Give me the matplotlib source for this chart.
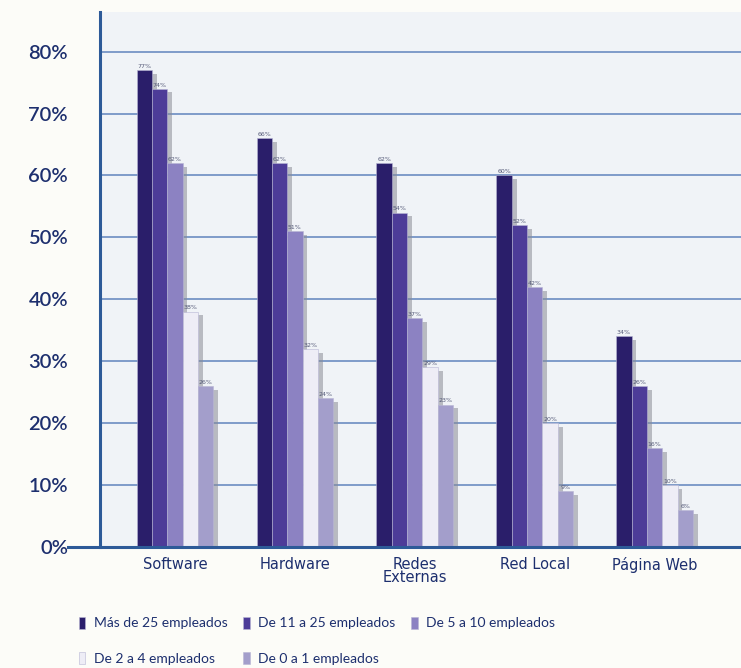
import matplotlib
matplotlib.use("Agg")
import matplotlib.pyplot as plt
import numpy as np

categories = ["Software", "Hardware", "Redes\nExternas", "Red Local", "Página Web"]
series_names = [
    "Más de 25 empleados",
    "De 11 a 25 empleados",
    "De 5 a 10 empleados",
    "De 2 a 4 empleados",
    "De 0 a 1 empleados",
]
mas_25 = [77, 66, 62, 60, 34]
de_11_25 = [74, 62, 54, 52, 26]
de_5_10 = [62, 51, 37, 42, 16]
de_2_4 = [38, 32, 29, 20, 10]
de_0_1 = [26, 24, 23, 9, 6]
series = [mas_25, de_11_25, de_5_10, de_2_4, de_0_1]
colors = ["#2a1e6a", "#4d3c98", "#8c82c2", "#eeedf6", "#a39ecb"]
yticks = [0, 10, 20, 30, 40, 50, 60, 70, 80]

text_blue = "#1d2f6e"
grid_blue = "#7e9bc9"
axis_blue = "#2d5a98"

fig = plt.figure(figsize=(7.41, 6.68), dpi=100, facecolor="#fcfcf8")
ax = fig.add_axes([100 / 741, 121 / 668, 1 - 100 / 741, 535 / 668])
ax.set_facecolor("#f0f3f7")

x = np.arange(len(categories))
width = 0.128
handles = []
for i, (vals, col) in enumerate(zip(series, colors)):
    pos = x + (i - 2) * width
    ax.bar(pos + 0.04, np.array(vals) - 0.6, width, color="#8a8c96", alpha=0.55,
           zorder=2, linewidth=0)
    b = ax.bar(pos, vals, width, color=col, zorder=3, edgecolor="#b8b6d4",
               linewidth=0.4, label=series_names[i])
    handles.append(b)
    for p, v in zip(pos, vals):
        ax.text(p, v + 0.2, f"{v}%", ha="center", va="bottom", fontsize=4.5,
                color="#555a78", zorder=4)

ax.set_xlim(-0.625, 4.72)
ax.set_ylim(0, 86.4)
ax.set_yticks(yticks)
ax.set_yticklabels([f"{t}%" for t in yticks], fontsize=14.5, color=text_blue,
                   fontweight="semibold", family=["Lato", "DejaVu Sans"])
for t in yticks[1:]:
    ax.axhline(t, color=grid_blue, linewidth=1.4, zorder=1)
ax.tick_params(axis="y", length=0, pad=23)
ax.tick_params(axis="x", length=0, pad=7)
ax.set_xticks(x)
ax.set_xticklabels(categories, fontsize=10.5, color=text_blue, linespacing=0.85,
                   family=["Liberation Sans Narrow", "DejaVu Sans"])
for s in ["top", "right", "bottom"]:
    ax.spines[s].set_visible(False)
ax.spines["left"].set_color(axis_blue)
ax.spines["left"].set_linewidth(2.2)
ax.plot([-0.05, 1.0], [0, 0], transform=ax.transAxes, color=axis_blue,
        linewidth=2.2, clip_on=False, zorder=5)

order = [0, 3, 1, 4, 2]
fig.legend([handles[k] for k in order], [series_names[k] for k in order],
           ncol=3, loc="upper left", bbox_to_anchor=(66 / 741, 1 - 604 / 668),
           frameon=False, labelcolor=text_blue, handlelength=0.5,
           handleheight=1.0, handletextpad=0.6, columnspacing=1.1,
           labelspacing=1.6, prop={"family": ["Lato", "DejaVu Sans"], "size": 10})

fig.savefig("out.png", dpi=100, facecolor=fig.get_facecolor())
